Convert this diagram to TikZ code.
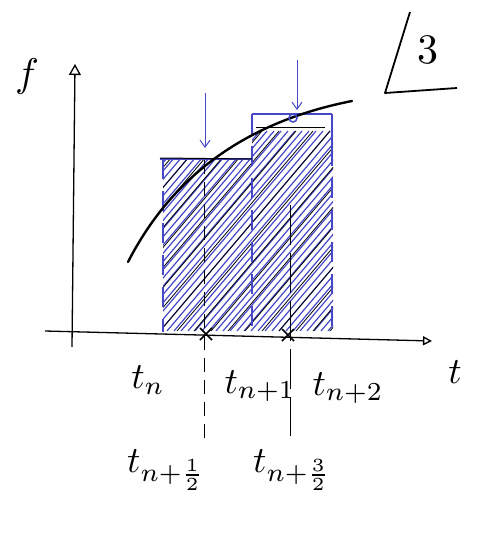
\documentclass[tikz,border=0pt]{standalone}
\usetikzlibrary{arrows.meta}
\definecolor{hb}{RGB}{70,72,200}
\begin{document}
\begin{tikzpicture}[x=1pt,y=-1pt,
  axis/.style={line width=1.3pt,black},
  edge/.style={hb,line width=2.2pt,dash pattern=on 20pt off 12pt},
  mid/.style={black,line width=0.9pt,dash pattern=on 14pt off 8pt},
  lbl/.style={scale=3.7,inner sep=0pt},
  probe/.style={hb,line width=1pt,-{Straight Barb[length=7pt,width=10pt]}},
  cross/.style={line width=1.5pt,black}]
\useasboundingbox (0,0) rectangle (481,533);
% hatching
\begin{scope}
  \clip (163,160) rectangle (252,331) (252,115) rectangle (333,331);
  \foreach \i in {0,...,60} \draw[hb,line width=1.2pt] ({20+\i*7},331) -- ++(170,-200);
  \foreach \i in {0,...,25} \draw[black,line width=0.8pt] ({24+\i*17},331) -- ++(170,-200);
\end{scope}
% axes
\coordinate (o) at (72,347);
\coordinate (ytip) at (75,64);
\coordinate (x0) at (45,331);
\coordinate (xtip) at (432,341);
\draw[axis,-{Triangle[open,length=11pt,width=12pt]}] (o) -- (ytip);
\draw[axis,-{Triangle[open,length=9pt,width=9pt]}] (x0) -- (xtip);
\node[scale=4,inner sep=0pt] (f) at (27,76) {$f$};
\node[lbl] (t) at (455,372) {$t$};
% rectangles
\coordinate (a0) at (163,332); \coordinate (a1) at (163,159);
\coordinate (b0) at (252,334); \coordinate (b1) at (252,159);
\coordinate (b2) at (252,114);
\coordinate (c0) at (332,336); \coordinate (c1) at (332,114);
\draw[edge] (a1) -- (a0);
\draw[edge] (b2) -- (b0);
\draw[edge] (c1) -- (c0);
\draw[hb,line width=2pt] (160,159) -- (b1);
\draw[black,line width=1pt] (160,158) -- (b1);
\draw[hb,line width=2pt] (b2) -- (c1);
\draw[hb,line width=2pt] (c1) -- (332,148);
\draw[black,line width=1pt] (256,127) -- (325,127);
% midlines
\coordinate (m1t) at (204,160); \coordinate (m1b) at (204,440);
\coordinate (m2t) at (290,205); \coordinate (m2b) at (290,436);
\draw[mid] (m1t) -- (m1b);
\draw[black,line width=0.9pt,dash pattern=on 40pt off 8pt] (m2t) -- (m2b);
% crosses
\draw[cross] (200,328) -- (212,340) (212,328) -- (200,340);
\draw[cross] (282,329) -- (294,341) (294,329) -- (282,341);
% curve
\draw[line width=2.4pt,line cap=round] (128,262) .. controls (165,190) and (230,125) .. (352,101);
% probes
\coordinate (p1s) at (205,93); \coordinate (p1e) at (205,148);
\coordinate (p2s) at (297,60); \coordinate (p2e) at (297,110);
\draw[probe] (p1s) -- (p1e);
\draw[probe] (p2s) -- (p2e);
\node[draw=hb,line width=1.5pt,circle,minimum size=8pt,inner sep=0pt] (dot) at (293,118) {};
% labels
\node[lbl] (tn) at (148,380) {$t_n$};
\node[lbl] (tn1) at (260,386) {$t_{n+1}$};
\node[lbl] (tn2) at (348,388) {$t_{n+2}$};
\node[lbl] (tnh) at (166,470) {$t_{n+\frac{1}{2}}$};
\node[lbl] (tn3h) at (292,470) {$t_{n+\frac{3}{2}}$};
% corner mark
\coordinate (k1) at (410,12); \coordinate (k2) at (385,93); \coordinate (k3) at (457,88);
\draw[line width=1.8pt,line join=round] (k1) -- (k2) -- (k3);
\node[scale=4.2,inner sep=0pt] (three) at (428,50) {3};
\end{tikzpicture}
\end{document}
